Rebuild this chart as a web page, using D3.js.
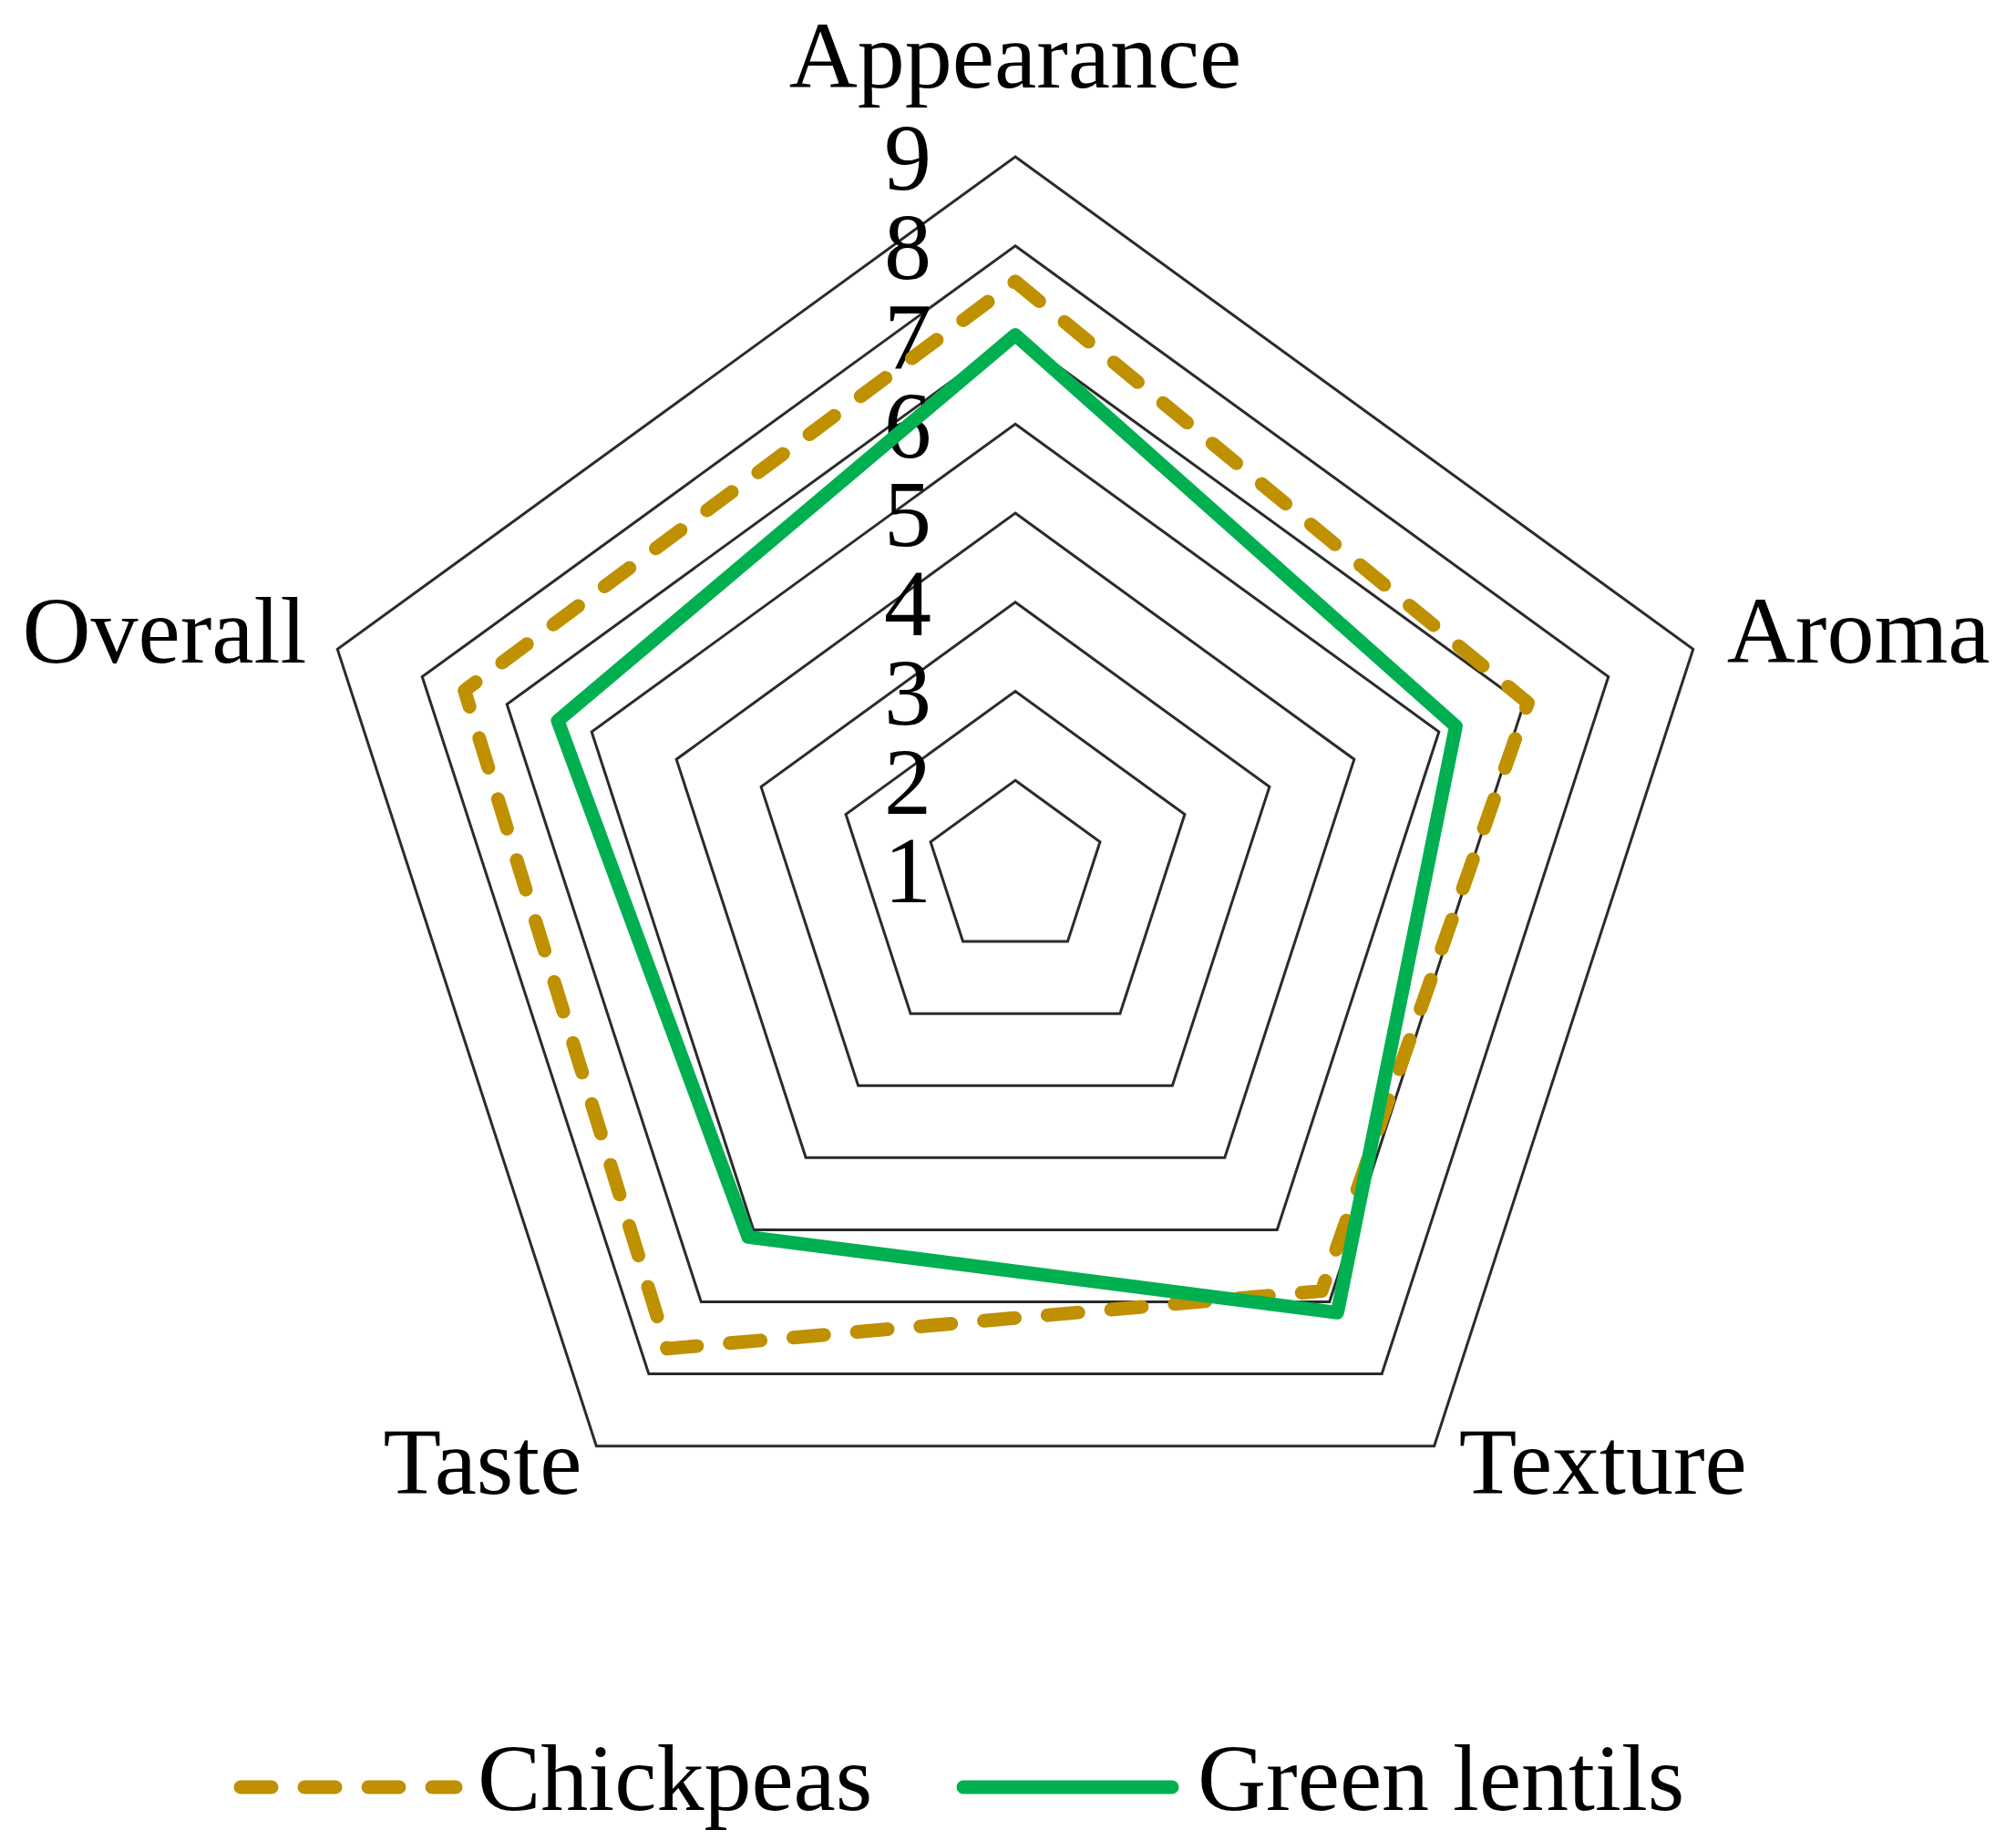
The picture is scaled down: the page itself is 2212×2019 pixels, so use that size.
<!DOCTYPE html>
<html>
<head>
<meta charset="utf-8">
<script src="https://cdn.jsdelivr.net/npm/d3@7"></script>
<style>
  html, body { margin: 0; padding: 0; background: #fff; }
  svg text { font-family: "Liberation Serif", "DejaVu Serif", serif; fill: #000; }
</style>
</head>
<body>
<svg id="chart" width="2212" height="2019"></svg>
<script>
// categories (clockwise from the top)
var categories = ["Appearance", "Aroma", "Texture", "Taste", "Overall"];
// tick values of the radial axis
var ticks = [1, 2, 3, 4, 5, 6, 7, 8, 9];
// series values
var chickpeas = [7.6, 7.05, 6.85, 7.65, 7.5];
var greenLentils = [7.0, 6.2, 7.15, 6.1, 6.4];
var seriesNames = ["Chickpeas", "Green lentils"];

var width = 2212, height = 2019;
var cx = 1114, cy = 954, R = 782;
var fontSize = 104;

var svg = d3.select("#chart");

var r = d3.scaleLinear().domain([1, 9]).range([0, R]);
var angle = d3.scaleLinear().domain([0, categories.length]).range([0, 2 * Math.PI]);

var g = svg.append("g").attr("transform", "translate(" + cx + "," + cy + ")");

// polar helper -> x,y
function pt(i, v) {
  var a = angle(i);
  return [r(v) * Math.sin(a), -r(v) * Math.cos(a)];
}

var radial = d3.lineRadial()
  .angle(function (d, i) { return angle(i); })
  .radius(function (d) { return r(d); })
  .curve(d3.curveLinearClosed);

// grid pentagons
g.selectAll(".ring")
  .data(ticks.filter(function (t) { return t > 1; }))
  .enter()
  .append("path")
  .attr("class", "ring")
  .attr("d", function (t) { return radial(categories.map(function () { return t; })); })
  .attr("fill", "none")
  .attr("stroke", "#2b2b2b")
  .attr("stroke-width", 3)
  .attr("stroke-linejoin", "miter");

// tick labels
g.selectAll(".tick")
  .data(ticks)
  .enter()
  .append("text")
  .attr("class", "tick")
  .attr("x", -92)
  .attr("y", function (t) { return -r(t); })
  .attr("dy", "0.35em")
  .attr("text-anchor", "end")
  .style("font-size", fontSize + "px")
  .text(function (t) { return t; });

// category labels
var labelStyle = [
  { anchor: "middle", dx: 0, dy: -76 },
  { anchor: "start", dx: 37, dy: 15 },
  { anchor: "start", dx: 27, dy: 52 },
  { anchor: "end", dx: -16, dy: 52 },
  { anchor: "end", dx: -34, dy: 15 }
];
g.selectAll(".cat")
  .data(categories)
  .enter()
  .append("text")
  .attr("class", "cat")
  .attr("x", function (d, i) { return pt(i, 9)[0] + labelStyle[i].dx; })
  .attr("y", function (d, i) { return pt(i, 9)[1] + labelStyle[i].dy; })
  .attr("text-anchor", function (d, i) { return labelStyle[i].anchor; })
  .style("font-size", fontSize + "px")
  .text(function (d) { return d; });

// series lines
var gold = "#BF9000", green = "#00B050";

g.append("path")
  .attr("d", radial(chickpeas))
  .attr("fill", "none")
  .attr("stroke", gold)
  .attr("stroke-width", 15)
  .attr("stroke-dasharray", "34,36")
  .attr("stroke-linecap", "round")
  .attr("stroke-linejoin", "round");

g.append("path")
  .attr("d", radial(greenLentils))
  .attr("fill", "none")
  .attr("stroke", green)
  .attr("stroke-width", 15)
  .attr("stroke-linejoin", "round");

// legend
var legend = svg.append("g");
var legendY = 1961;

legend.append("line")
  .attr("x1", 264).attr("x2", 500)
  .attr("y1", legendY).attr("y2", legendY)
  .attr("stroke", gold)
  .attr("stroke-width", 15)
  .attr("stroke-dasharray", "34,36")
  .attr("stroke-linecap", "round");
legend.append("text")
  .attr("x", 524).attr("y", 1986)
  .style("font-size", fontSize + "px")
  .text(seriesNames[0]);

legend.append("line")
  .attr("x1", 1057).attr("x2", 1286)
  .attr("y1", legendY).attr("y2", legendY)
  .attr("stroke", green)
  .attr("stroke-width", 15)
  .attr("stroke-linecap", "round");
legend.append("text")
  .attr("x", 1314).attr("y", 1986)
  .style("font-size", fontSize + "px")
  .text(seriesNames[1]);
</script>
</body>
</html>
